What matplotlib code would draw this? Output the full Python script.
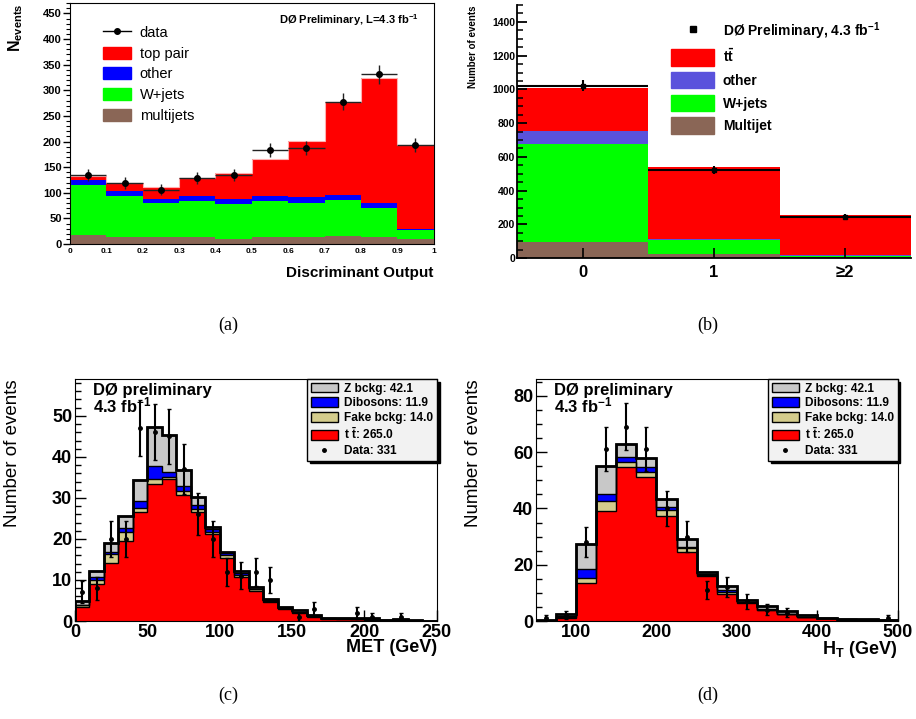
import numpy as np
import matplotlib
matplotlib.use("Agg")
import matplotlib.pyplot as plt
from matplotlib.ticker import MultipleLocator
from matplotlib.patches import Patch
from matplotlib.lines import Line2D

plt.rcParams['font.family'] = ['Liberation Sans', 'DejaVu Sans']
plt.rcParams['font.weight'] = 'bold'
plt.rcParams['axes.labelweight'] = 'bold'
plt.rcParams['mathtext.fontset'] = 'custom'
plt.rcParams['mathtext.rm'] = 'Liberation Sans:bold'
plt.rcParams['mathtext.bf'] = 'Liberation Sans:bold'
plt.rcParams['mathtext.it'] = 'Liberation Sans:bold:italic'

# ---------------- (a) discriminant output ----------------
disc_edges = [0.0, 0.1, 0.2, 0.3, 0.4, 0.5, 0.6, 0.7, 0.8, 0.9, 1.0]
a_multijets = [18, 13, 13, 13, 10, 14, 13, 16, 14, 10]
a_wjets = [98, 81, 67, 70, 68, 69, 68, 69, 56, 17]
a_other = [9, 10, 8, 10, 10, 10, 11, 11, 10, 2]
a_toppair = [8, 16, 23, 36, 51, 73, 110, 182, 243, 165]
a_data = [134, 119, 106, 129, 134, 183, 188, 278, 331, 193]

# ---------------- (b) b-tag multiplicity ----------------
b_labels = ['0', '1', '≥2']
b_multijet = [97, 26, 6]
b_wjets = [582, 79, 8]
b_other = [73, 10, 4]
b_ttbar = [257, 425, 239]
b_data = [1023, 524, 245]

# ---------------- (c) MET ----------------
met_edges = list(range(0, 260, 10))
met_ttbar = [3.4, 9.0, 14.2, 19.5, 26.5, 33.4, 34.5, 30.8, 26.5, 21.2, 15.4, 10.8, 7.4,
             4.6, 2.9, 2.0, 1.0, 0.6, 0.5, 0.4, 0.3, 0.2, 0.3, 0.1, 0.05]
met_fake = [0.4, 1.0, 2.1, 2.3, 1.0, 1.3, 0.6, 0.8, 0.8, 0.5, 0.7, 0.4, 0.3,
            0.3, 0.2, 0.2, 0.1, 0.1, 0.1, 0.1, 0.1, 0.05, 0.05, 0.0, 0.0]
met_diboson = [0.1, 0.8, 0.4, 0.8, 1.7, 3.0, 1.2, 1.4, 1.1, 0.7, 0.4, 0.4, 0.2,
               0.1, 0.1, 0.1, 0.05, 0.05, 0.05, 0.05, 0.05, 0.0, 0.0, 0.0, 0.0]
met_zbkg = [1.0, 1.3, 2.2, 3.1, 5.1, 9.7, 9.0, 3.9, 1.8, 0.5, 0.4, 0.7, 0.3,
            0.4, 0.2, 0.4, 0.3, 0.1, 0.1, 0.2, 0.2, 0.05, 0.1, 0.05, 0.0]
met_data = [7, 8, 20, 20, 47, 46, 45, 37, 26, 20, 12, 11, 12, 10, 0, 1, 3, 0, 0, 2, 1, 0, 1, 0, 0]

# ---------------- (d) HT ----------------
ht_edges = list(range(50, 525, 25))
ht_ttbar = [0.1, 1.2, 13.5, 39.0, 54.6, 51.0, 37.4, 24.6, 16.0, 9.7, 6.4, 3.8, 2.4,
            1.4, 0.9, 0.5, 0.4, 0.2]
ht_fake = [0.0, 0.3, 1.9, 3.7, 2.0, 2.1, 2.0, 1.2, 0.5, 0.6, 0.3, 0.2, 0.1,
           0.1, 0.05, 0.05, 0.0, 0.0]
ht_diboson = [0.0, 0.2, 3.0, 2.6, 1.6, 1.5, 1.0, 0.6, 0.2, 0.6, 0.2, 0.2, 0.1,
              0.05, 0.05, 0.0, 0.0, 0.0]
ht_zbkg = [0.2, 0.9, 9.1, 9.8, 4.7, 3.4, 2.8, 2.9, 0.7, 1.6, 0.5, 1.0, 0.8,
           0.45, 0.2, 0.25, 0.2, 0.2]
ht_data = [1, 2, 28, 61, 69, 61, 40, 30, 11, 12, 7, 4, 3, 0, 0, 0, 0, 1]

C_RED = '#ff0000'
C_BLUE = '#0000ff'
C_GREEN = '#00ff00'
C_BROWN = '#8a6656'
C_OTHER_B = '#5a52dc'
C_GRAY = '#c8c8c8'
C_TAN = '#d4cc8c'

fig = plt.figure(figsize=(9.16, 7.19), dpi=100)


def stack_fill(ax, edges, comps, colors, edge=None, lw=1.0):
    base = np.zeros(len(comps[0]))
    tops = []
    for vals, col in zip(comps, colors):
        top = base + np.asarray(vals, dtype=float)
        ax.stairs(top, edges, baseline=base, fill=True, color=col, zorder=1)
        tops.append(top)
        base = top
    if edge is not None:
        for top in tops:
            ax.stairs(top, edges, baseline=0, fill=False, color=edge, lw=lw, zorder=2)
    return base


# ======================= (a) =======================
ax = fig.add_axes([0.0764, 0.6606, 0.397, 0.335])
total = stack_fill(ax, disc_edges, [a_multijets, a_wjets, a_other, a_toppair],
                   [C_BROWN, C_GREEN, C_BLUE, C_RED])
ax.stairs(total, disc_edges, color='#ffb0b0', lw=0.8, zorder=2)
ed = np.array(disc_edges)
cen = 0.5 * (ed[1:] + ed[:-1])
dat = np.array(a_data, dtype=float)
ax.errorbar(cen, dat, xerr=0.05, yerr=np.sqrt(dat), fmt='o', ms=4, color='k',
            ecolor='#222222', lw=1, capsize=0, zorder=4)
ax.set_xlim(0, 1)
ax.set_ylim(0, 470)
ax.yaxis.set_major_locator(MultipleLocator(50))
ax.yaxis.set_minor_locator(MultipleLocator(10))
ax.set_xticks(disc_edges)
ax.set_xticklabels(['0', '0.1', '0.2', '0.3', '0.4', '0.5', '0.6', '0.7', '0.8', '0.9', '1'])
ax.tick_params(axis='y', which='major', direction='out', length=5, width=1, labelsize=8, pad=1)
ax.tick_params(axis='y', which='minor', direction='out', length=3, width=0.8)
ax.tick_params(axis='x', which='major', length=0, labelsize=6, pad=3)
ax.set_xlabel('Discriminant Output', fontsize=11, loc='right')
ax.xaxis.set_label_coords(1.0, -0.09)
ax.set_ylabel('N$_{\\mathbf{events}}$', fontsize=11.5, loc='top')
ax.yaxis.set_label_coords(-0.125, 1.0)
ax.text(0.96, 0.93, 'DØ Preliminary, L=4.3 fb$^{\\mathbf{-1}}$', transform=ax.transAxes,
        ha='right', va='center', fontsize=8)
handles = [Line2D([0], [0], color='k', marker='o', ms=4, lw=1),
           Patch(color=C_RED), Patch(color=C_BLUE), Patch(color=C_GREEN), Patch(color=C_BROWN)]
ax.legend(handles, ['data', 'top pair', 'other', 'W+jets', 'multijets'],
          loc='upper left', bbox_to_anchor=(0.055, 0.96), frameon=False,
          prop={'size': 10.5, 'weight': 'normal'}, handlelength=1.9, handleheight=0.9,
          labelspacing=0.45, handletextpad=0.6)

# ======================= (b) =======================
ax = fig.add_axes([0.5644, 0.641, 0.430, 0.352])
b_edges = [-0.5, 0.5, 1.5, 2.5]
stack_fill(ax, b_edges, [b_multijet, b_wjets, b_other, b_ttbar],
           [C_BROWN, C_GREEN, C_OTHER_B, C_RED])
bd = np.array(b_data, dtype=float)
ax.errorbar(range(len(b_labels)), bd, xerr=0.5, yerr=np.sqrt(bd), fmt='s', ms=3.5,
            color='k', lw=1.5, capsize=0, zorder=4)
ax.set_xlim(-0.5, 2.5)
ax.set_ylim(0, 1500)
ax.set_xticks(range(len(b_labels)))
ax.set_xticklabels(b_labels)
ax.yaxis.set_major_locator(MultipleLocator(200))
ax.yaxis.set_minor_locator(MultipleLocator(50))
ax.tick_params(axis='y', which='major', direction='in', length=7, width=1.3, labelsize=7.5, pad=1.5)
ax.tick_params(axis='y', which='minor', direction='in', length=4, width=1.1)
ax.tick_params(axis='x', which='major', direction='in', length=7, width=1.2, labelsize=12, pad=5)
for s in ['top', 'right']:
    ax.spines[s].set_visible(False)
ax.spines['left'].set_linewidth(1.3)
ax.spines['bottom'].set_linewidth(1.3)
ax.set_ylabel('Number of events', fontsize=7, loc='top')
ax.yaxis.set_label_coords(-0.1, 1.0)
handles = [Line2D([0], [0], color='k', marker='s', ms=4, lw=0),
           Patch(color=C_RED), Patch(color=C_OTHER_B), Patch(color=C_GREEN), Patch(color=C_BROWN)]
ax.legend(handles, ['DØ Preliminary, 4.3 fb$^{\\mathbf{-1}}$', '$\\mathbf{t\\bar{t}}$', 'other',
                    'W+jets', 'Multijet'],
          loc='upper left', bbox_to_anchor=(0.36, 0.99), frameon=False,
          prop={'size': 10, 'weight': 'bold'}, handlelength=3.1, handleheight=1.45,
          labelspacing=0.45, handletextpad=0.6)


# ======================= (c) and (d) =======================
def lower_panel(rect, edges, ttbar, fake, dib, zbkg, data, xlim, ylim, xmaj, ymaj, ymin, xlab):
    ax = fig.add_axes(rect)
    ax.set_axisbelow(True)
    stack_fill(ax, edges, [ttbar, fake, dib, zbkg], [C_RED, C_TAN, C_BLUE, C_GRAY],
               edge='k', lw=1.0)
    tot = np.sum([ttbar, fake, dib, zbkg], axis=0)
    ax.stairs(tot, edges, color='k', lw=2.0, zorder=3)
    e = np.array(edges, dtype=float)
    c = 0.5 * (e[1:] + e[:-1])
    d = np.array(data, dtype=float)
    m = d > 0
    ax.errorbar(c[m], d[m], yerr=np.sqrt(d[m]), fmt='o', ms=2.5, color='k', lw=1.5,
                capsize=1.2, zorder=5)
    ax.set_xlim(*xlim)
    ax.set_ylim(*ylim)
    ax.xaxis.set_major_locator(MultipleLocator(xmaj))
    ax.yaxis.set_major_locator(MultipleLocator(ymaj))
    ax.yaxis.set_minor_locator(MultipleLocator(ymin))
    ax.tick_params(axis='both', which='major', direction='in', length=8, width=1,
                   labelsize=13, pad=2)
    ax.tick_params(axis='y', which='minor', direction='in', length=4, width=1)
    ax.set_xlabel(xlab, fontsize=13, loc='right')
    ax.xaxis.set_label_coords(1.0, -0.075)
    ax.set_ylabel('Number of events', fontsize=13.5, fontweight='normal', loc='top')
    ax.yaxis.set_label_coords(-0.15, 1.0)
    ax.text(0.05, 0.985, 'DØ preliminary\n4.3 fb$^{\\mathbf{-1}}$', transform=ax.transAxes,
            ha='left', va='top', fontsize=12, linespacing=0.85)
    handles = [Patch(facecolor=C_GRAY, edgecolor='k', lw=1),
               Patch(facecolor=C_BLUE, edgecolor='k', lw=1),
               Patch(facecolor=C_TAN, edgecolor='k', lw=1),
               Patch(facecolor=C_RED, edgecolor='k', lw=1),
               Line2D([0], [0], color='k', marker='o', ms=2.5, lw=0)]
    leg = ax.legend(handles, ['Z bckg: 42.1', 'Dibosons: 11.9', 'Fake bckg: 14.0',
                              't $\\mathbf{\\bar{t}}$: 265.0', 'Data: 331'],
                    loc='upper right', bbox_to_anchor=(1.0, 1.0), borderaxespad=0,
                    fancybox=False, shadow={'color': 'k', 'alpha': 1},
                    prop={'size': 8.6, 'weight': 'bold'}, handlelength=2.3,
                    handleheight=0.9, labelspacing=0.22, handletextpad=0.5,
                    borderpad=0.3, framealpha=1)
    leg.get_frame().set_facecolor('#f2f2f2')
    leg.get_frame().set_edgecolor('k')
    leg.get_frame().set_linewidth(1)
    leg.set_zorder(10)
    return ax


lower_panel([0.0819, 0.1363, 0.395, 0.3366], met_edges, met_ttbar, met_fake, met_diboson,
            met_zbkg, met_data, (0, 250), (0, 59), 50, 10, 2, 'MET (GeV)')
lower_panel([0.585, 0.1363, 0.395, 0.3366], ht_edges, ht_ttbar, ht_fake, ht_diboson,
            ht_zbkg, ht_data, (50, 500), (0, 86), 100, 20, 5, 'H$_\\mathbf{T}$ (GeV)')

for x, y, s in [(228, 325, '(a)'), (708, 325, '(b)'), (228, 695, '(c)'), (708, 695, '(d)')]:
    fig.text(x / 916, 1 - y / 719, s, family='Liberation Serif', fontweight='normal',
             fontsize=13, ha='center', va='center')

fig.savefig('out.png', dpi=100)
